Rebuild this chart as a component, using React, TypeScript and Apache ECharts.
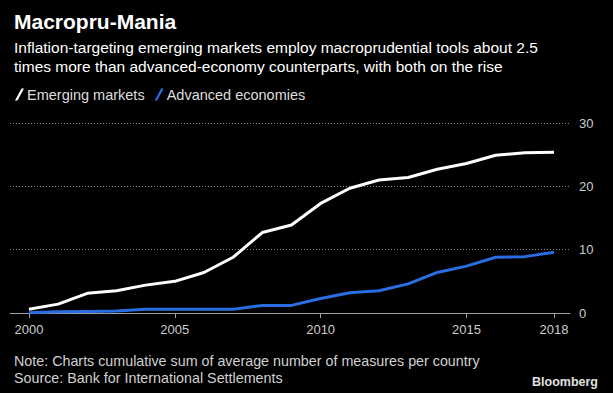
import React, { useEffect, useRef } from "react";
import * as echarts from "echarts";

const years = [2000, 2001, 2002, 2003, 2004, 2005, 2006, 2007, 2008, 2009, 2010, 2011, 2012, 2013, 2014, 2015, 2016, 2017, 2018];
const emerging = [0.6, 1.4, 3.1, 3.5, 4.4, 5.0, 6.4, 8.8, 12.7, 13.9, 17.3, 19.7, 21.0, 21.4, 22.7, 23.6, 24.9, 25.3, 25.4];
const advanced = [0.05, 0.2, 0.25, 0.3, 0.6, 0.6, 0.6, 0.6, 1.2, 1.2, 2.3, 3.2, 3.5, 4.6, 6.4, 7.4, 8.8, 8.9, 9.6];
const xTickLabels = [2000, 2005, 2010, 2015, 2018];
const yTicks = { min: 0, max: 30, interval: 10 };

const title = "Macropru-Mania";
const subtitle = "Inflation-targeting emerging markets employ macroprudential tools about 2.5\ntimes more than advanced-economy counterparts, with both on the rise";
const note = "Note: Charts cumulative sum of average number of measures per country\nSource: Bank for International Settlements";

const FONT = "Liberation Sans";
const BLUE = "#2a6de2";

export default function App() {
  const ref = useRef<HTMLDivElement>(null);
  useEffect(() => {
    if (!ref.current) return;
    const chart = echarts.init(ref.current, undefined, { renderer: "svg" });
    const icon = "path://M0,12 L2.5,12 L9,0 L6.5,0 Z";
    chart.setOption({
      animation: false,
      backgroundColor: "#000000",
      textStyle: { fontFamily: FONT },
      title: [
        {
          text: title,
          left: 9,
          top: 6,
          textStyle: { color: "#ffffff", fontSize: 21, fontWeight: "bold", fontFamily: FONT },
        },
        {
          text: subtitle,
          left: 9,
          top: 33,
          textStyle: { color: "#ffffff", fontSize: 15.5, fontWeight: "normal", lineHeight: 19, fontFamily: FONT },
        },
        {
          text: note,
          left: 9,
          top: 347,
          textStyle: { color: "#d0d0d0", fontSize: 14.3, fontWeight: "normal", lineHeight: 17, fontFamily: FONT },
        },
        {
          text: "Bloomberg",
          right: 10,
          top: 370,
          textStyle: { color: "#e0e0e0", fontSize: 12.5, fontWeight: "bold", fontFamily: FONT },
        },
      ],
      legend: {
        left: 10,
        top: 82,
        itemWidth: 9,
        itemHeight: 12,
        itemGap: 10,
        icon,
        textStyle: { color: "#dddddd", fontSize: 14.5, fontFamily: FONT, padding: [0, 0, 0, -2] },
        data: [
          { name: "Emerging markets", itemStyle: { color: "#ffffff" } },
          { name: "Advanced economies", itemStyle: { color: BLUE } },
        ],
      },
      grid: { left: 10, right: 43, top: 123, bottom: 80, containLabel: false },
      xAxis: {
        type: "value",
        min: 1999.35,
        max: 2018.55,
        splitLine: { show: false },
        axisLine: { show: true, lineStyle: { color: "#a0a0a0", width: 1 } },
        axisTick: { show: true, customValues: xTickLabels, length: 5, lineStyle: { color: "#a0a0a0" } },
        axisLabel: {
          customValues: xTickLabels,
          color: "#cccccc",
          fontSize: 13,
          margin: 10,
          fontFamily: FONT,
          formatter: (v: number) => String(Math.round(v)),
        },
      },
      yAxis: {
        type: "value",
        position: "right",
        min: yTicks.min,
        max: yTicks.max,
        interval: yTicks.interval,
        axisLine: { show: false },
        axisTick: { show: false },
        axisLabel: { color: "#cccccc", fontSize: 13, margin: 9, fontFamily: FONT },
        splitLine: { show: true, lineStyle: { color: "#8a8a8a", type: [1, 2], width: 1 } },
      },
      series: [
        {
          name: "Emerging markets",
          type: "line",
          data: years.map((y, i) => [y, emerging[i]]),
          showSymbol: false,
          lineStyle: { color: "#ffffff", width: 3 },
          itemStyle: { color: "#ffffff" },
          z: 3,
        },
        {
          name: "Advanced economies",
          type: "line",
          data: years.map((y, i) => [y, advanced[i]]),
          showSymbol: false,
          lineStyle: { color: BLUE, width: 3 },
          itemStyle: { color: BLUE },
          z: 4,
        },
      ],
    });
    return () => chart.dispose();
  }, []);
  return <div ref={ref} style={{ width: 613, height: 393, position: "fixed", left: 0, top: 0 }} />;
}
